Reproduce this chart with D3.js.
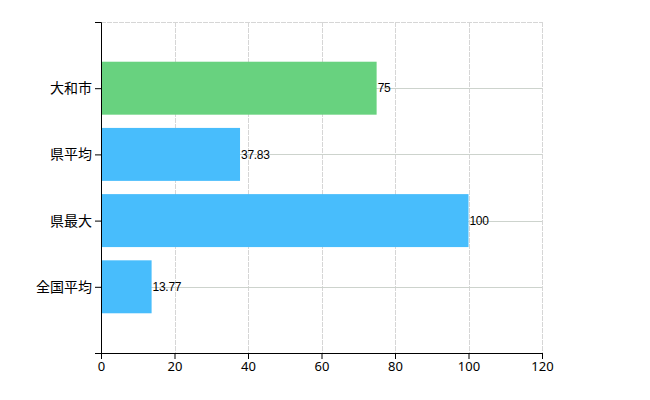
<!DOCTYPE html>
<html>
<head>
<meta charset="utf-8">
<script src="https://cdn.jsdelivr.net/npm/d3@7"></script>
<style>
  body { margin: 0; background: #fff; }
  svg { display: block; }
</style>
</head>
<body>
<svg id="svg" width="650" height="400"></svg>
<script>
// data
var categories = ["大和市", "県平均", "県最大", "全国平均"];
var values = [75, 37.83, 100, 13.77];
var barColors = ["#68d27f", "#48bdfc", "#48bdfc", "#48bdfc"];
var xTicks = [0, 20, 40, 60, 80, 100, 120];

var svg = d3.select("#svg");

var padding = {top: 22, right: 108, bottom: 47, left: 101};
var chartArea = {
    "width": 650 - padding.left - padding.right,
    "height": 400 - padding.top - padding.bottom
};

var xScale = d3.scaleLinear()
    .domain([0, 120])
    .range([0, chartArea.width]);

var yScale = d3.scalePoint()
    .domain(categories)
    .range([0, chartArea.height])
    .padding(1);

var barH = yScale.step() * 0.8;

var g = svg.append("g")
    .attr("transform", "translate(" + padding.left + "," + padding.top + ")");

// grid
g.selectAll(".vgrid")
    .data(xTicks.slice(1))
    .enter().append("line")
    .attr("x1", function (d) { return Math.round(xScale(d)) + 0.5; })
    .attr("x2", function (d) { return Math.round(xScale(d)) + 0.5; })
    .attr("y1", 0)
    .attr("y2", chartArea.height)
    .attr("stroke", "#d6d6d6")
    .attr("stroke-dasharray", "5,1");

g.append("line")
    .attr("x1", 0).attr("x2", chartArea.width)
    .attr("y1", 0.5).attr("y2", 0.5)
    .attr("stroke", "#d6d6d6")
    .attr("stroke-dasharray", "5,1");

g.selectAll(".hgrid")
    .data(categories)
    .enter().append("line")
    .attr("x1", 0)
    .attr("x2", chartArea.width)
    .attr("y1", function (d) { return Math.round(yScale(d)) + 0.5; })
    .attr("y2", function (d) { return Math.round(yScale(d)) + 0.5; })
    .attr("stroke", "#cdd3cd");

// bars
g.selectAll(".bar")
    .data(values)
    .enter().append("rect")
    .attr("x", 0)
    .attr("y", function (d, i) { return yScale(categories[i]) - barH / 2; })
    .attr("width", function (d) { return xScale(d); })
    .attr("height", barH)
    .attr("fill", function (d, i) { return barColors[i]; });

g.selectAll(".val")
    .data(values)
    .enter().append("text")
    .attr("x", function (d) { return xScale(d) + 1; })
    .attr("y", function (d, i) { return yScale(categories[i]); })
    .attr("dy", "0.35em")
    .attr("font-family", "'Liberation Sans', Arial, sans-serif")
    .attr("font-size", 12)
    .attr("letter-spacing", -0.3)
    .attr("fill", "#000")
    .text(function (d) { return d; });

// axes
var xAxis = g.append("g")
    .attr("transform", "translate(0," + chartArea.height + ")")
    .call(d3.axisBottom(xScale).tickValues(xTicks).tickSizeOuter(0).tickSize(6).tickPadding(3));

var yAxis = g.append("g")
    .call(d3.axisLeft(yScale).tickSize(6).tickSizeOuter(6).tickPadding(3));

xAxis.selectAll("text")
    .attr("font-family", "'Noto Sans', sans-serif")
    .attr("font-size", 13)
    .attr("fill", "#000");
yAxis.selectAll("text")
    .attr("font-family", "'Noto Sans CJK JP', sans-serif")
    .attr("font-size", 14)
    .attr("fill", "#000");
svg.selectAll(".domain, .tick line").attr("stroke", "#000");
</script>
</body>
</html>
